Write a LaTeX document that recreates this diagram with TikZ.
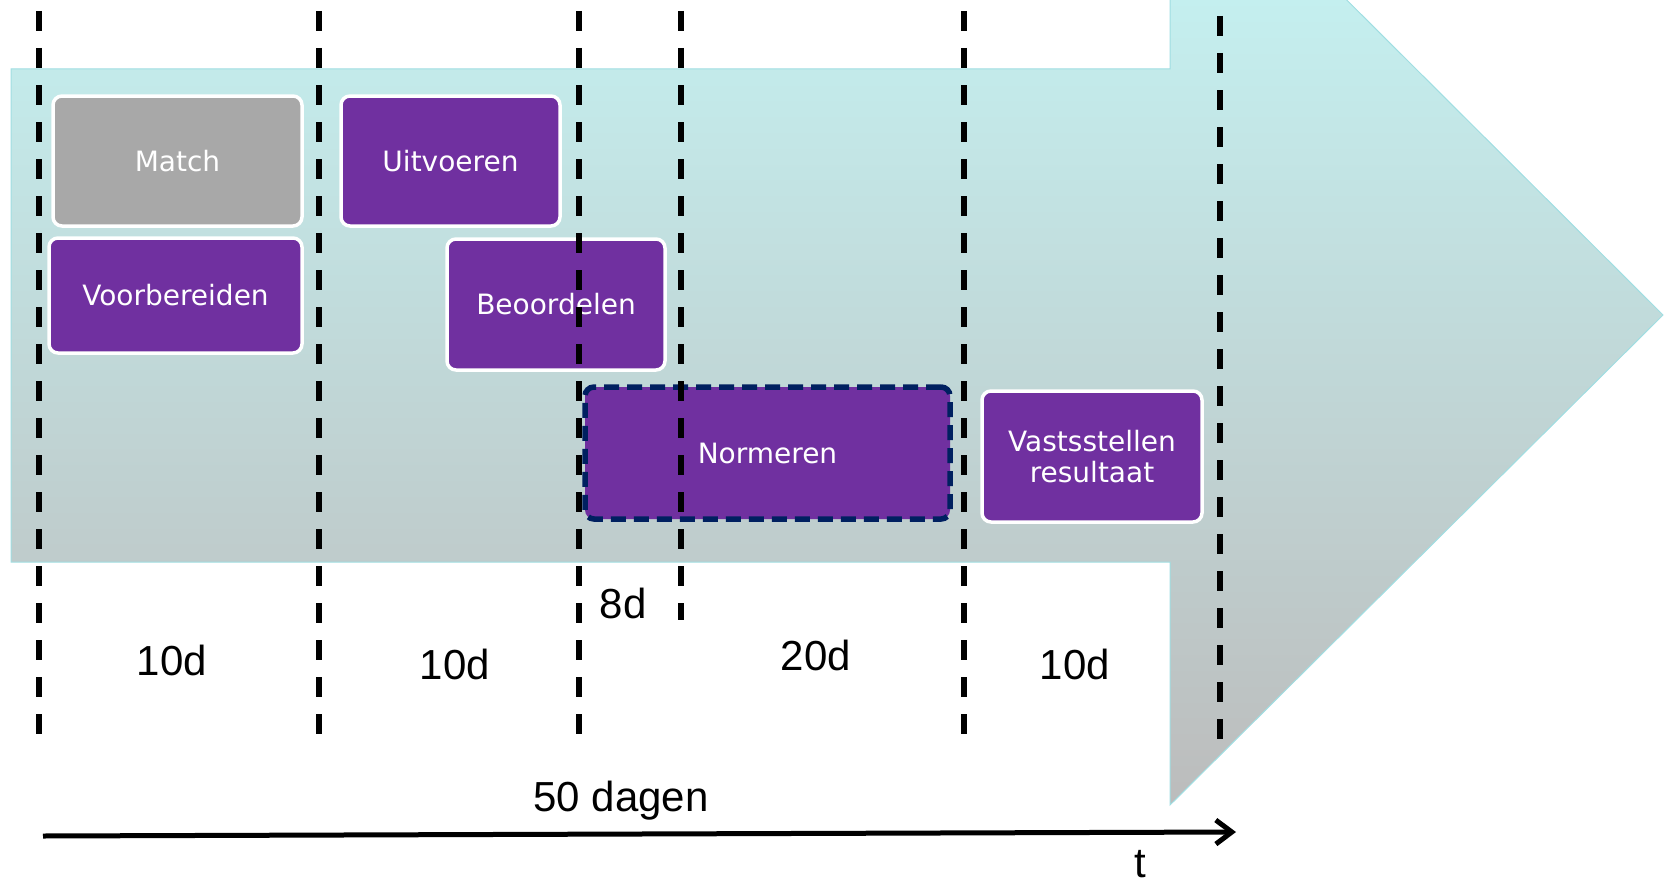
\documentclass[tikz,border=0pt]{standalone}
\usepackage{fontspec}
\setmainfont{Liberation Sans}
\newfontfamily\boxfont{DejaVu Sans}
\usepackage{tikz}
\usetikzlibrary{arrows.meta}
\definecolor{phasepurple}{RGB}{112,48,160}
\definecolor{phasegrey}{RGB}{168,168,168}
\definecolor{normnavy}{RGB}{0,32,96}
\definecolor{arrowtop}{RGB}{198,250,250}
\definecolor{arrowbottom}{RGB}{188,188,188}
\definecolor{arrowedge}{RGB}{160,222,226}
\pgfdeclareverticalshading{arrow-fade}{100bp}{color(0bp)=(arrowbottom); color(25bp)=(arrowbottom); color(75bp)=(arrowtop); color(100bp)=(arrowtop)}
\tikzset{
    phase-box/.style = {draw=white, fill=phasepurple, line width=3.5pt, rounded corners=9pt, text=white, align=center, inner sep=0pt, font=\boxfont\fontsize{28}{31}\selectfont},
    norm-box/.style = {phase-box, draw=normnavy, line width=5.5pt, dash pattern=on 15pt off 8pt},
    day-label/.style = {anchor=base, font=\fontsize{42}{46}\selectfont},
    time-line/.style = {draw=black, line width=5.5pt, dash pattern=on 20pt off 17pt},
}

\begin{document}
\begin{tikzpicture}[x=1pt, y=-1pt]
\useasboundingbox (0,0) rectangle (1668,883);
\shade[shading=arrow-fade, draw=arrowedge, line width=1pt] (11,69) -- (1170,69) -- (1170,-176) -- (1663,315) -- (1170,805) -- (1170,562) -- (11,562) -- cycle;

\node[phase-box, fill=phasegrey, minimum width=249pt, minimum height=130pt] (match) at (177.5,161) {Match};
\node[phase-box, minimum width=219pt, minimum height=130pt] (uitvoeren) at (450.5,161) {Uitvoeren};
\node[phase-box, minimum width=253pt, minimum height=115pt] (voorbereiden) at (175.5,295.5) {Voorbereiden};
\node[phase-box, minimum width=218pt, minimum height=131pt] (beoordelen) at (556,304.5) {Beoordelen};
\node[norm-box, minimum width=365pt, minimum height=132pt] (normeren) at (767.5,453) {Normeren};
\node[phase-box, minimum width=220pt, minimum height=131pt] (vaststellen) at (1092,456.5) {Vastsstellen\\resultaat};

\foreach \x/\ytop/\ybot in {39/11/737, 319/11/737, 579/11/737, 681/11/620, 964/11/737, 1220/16/741}
    \draw[time-line] (\x,\ytop) -- (\x,\ybot);

\node[day-label] (days-a) at (172,675) {10d};
\node[day-label] (days-b) at (455,679) {10d};
\node[day-label] (days-c) at (623,618) {8d};
\node[day-label] (days-d) at (816,670) {20d};
\node[day-label] (days-e) at (1075,679) {10d};
\node[day-label] (total) at (621,811) {50 dagen};

\coordinate (t-start) at (43,836);
\coordinate (t-end) at (1236,832);
\draw[line width=5pt, -{Straight Barb[length=16pt, width=24pt]}] (t-start) -- (t-end);
\node[day-label, inner sep=1pt] (t-label) at (1140,877) {t};
\end{tikzpicture}
\end{document}
